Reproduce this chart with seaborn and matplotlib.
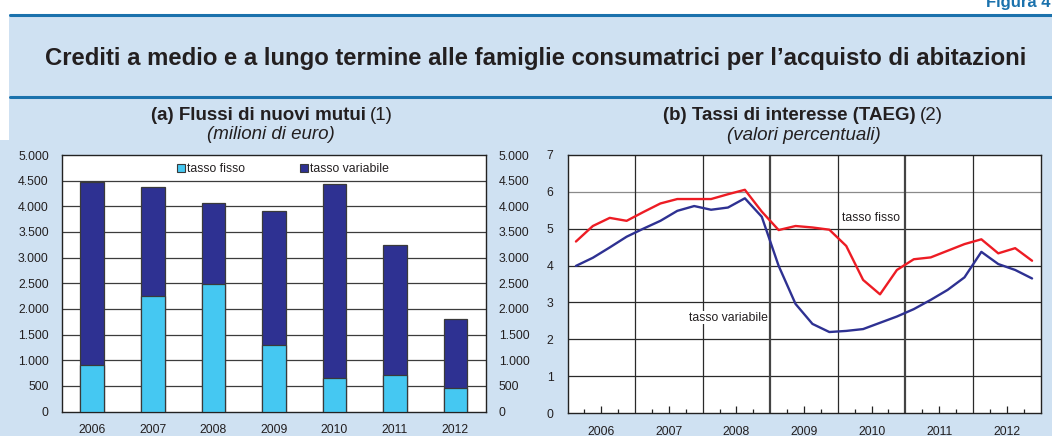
import numpy as np
import pandas as pd
import matplotlib
matplotlib.use("Agg")
import matplotlib.pyplot as plt
import seaborn as sns
from matplotlib.patches import Rectangle, Patch
from matplotlib.lines import Line2D
from matplotlib.ticker import FuncFormatter, FixedLocator

# (a) flussi di nuovi mutui, milioni di euro
anni = [2006, 2007, 2008, 2009, 2010, 2011, 2012]
flussi_fisso = [911, 2259, 2487, 1302, 658, 716, 462]
flussi_variabile = [3555, 2116, 1582, 2598, 3769, 2526, 1348]

# (b) TAEG trimestrale, valori percentuali
trimestri = [f"{a}T{q}" for a in anni for q in (1, 2, 3, 4)]
taeg_fisso = [4.65, 5.07, 5.29, 5.21, 5.45, 5.68, 5.80, 5.80, 5.80, 5.93,
              6.05, 5.46, 4.96, 5.07, 5.03, 4.97, 4.53, 3.61, 3.22, 3.88,
              4.17, 4.22, 4.40, 4.58, 4.71, 4.33, 4.47, 4.13]
taeg_variabile = [3.99, 4.21, 4.49, 4.78, 5.00, 5.21, 5.48, 5.61, 5.51, 5.57,
                  5.82, 5.32, 3.99, 2.96, 2.42, 2.20, 2.23, 2.28, 2.45, 2.62,
                  2.82, 3.07, 3.34, 3.68, 4.37, 4.04, 3.88, 3.65]

BG = "#cfe1f2"
AZZ = "#1b72ad"
CIANO = "#45c8f2"
BLU = "#2e3192"
ROSSO = "#ed1c24"
GRIGIO = "#222222"

sns.set_theme(style="white")
plt.rcParams["font.family"] = ["Liberation Sans", "DejaVu Sans"]
plt.rcParams["text.color"] = "#231f20"

W, H = 1052, 436
fig = plt.figure(figsize=(W / 100, H / 100), dpi=100, facecolor=BG)


def fx(x):
    return x / W


def fy(y):
    return 1 - y / H


# header decorations
fig.add_artist(Rectangle((0, fy(14)), 1, 14 / H, transform=fig.transFigure,
                         facecolor="white", edgecolor="none"))
fig.add_artist(Rectangle((0, fy(140)), fx(9), (140 - 14) / H, transform=fig.transFigure,
                         facecolor="white", edgecolor="none"))
fig.add_artist(Line2D([fx(10), 1], [fy(15), fy(15)], transform=fig.transFigure,
                      color=AZZ, lw=2.2))
fig.add_artist(Line2D([fx(10), 1], [fy(97.5), fy(97.5)], transform=fig.transFigure,
                      color=AZZ, lw=2.2))
fig.text(fx(1050), fy(7), "Figura 4", ha="right", va="baseline", color=AZZ,
         fontsize=12, fontweight="bold")
fig.text(fx(536), fy(58), "Crediti a medio e a lungo termine alle famiglie consumatrici "
         "per l\u2019acquisto di abitazioni", ha="center", va="center",
         fontsize=17.2, fontweight="bold")

# subtitles
SUB = 13.5
fig.text(fx(366), fy(116), "(a) Flussi di nuovi mutui", ha="right", va="center",
         fontsize=SUB, fontweight="bold")
fig.text(fx(369.5), fy(116), "(1)", ha="left", va="center", fontsize=SUB)
fig.text(fx(271), fy(134), "(milioni di euro)", ha="center", va="center",
         fontsize=SUB, style="italic")
fig.text(fx(915.5), fy(116), "(b) Tassi di interesse (TAEG)", ha="right", va="center",
         fontsize=SUB, fontweight="bold")
fig.text(fx(919.5), fy(116), "(2)", ha="left", va="center", fontsize=SUB)
fig.text(fx(804), fy(135), "(valori percentuali)", ha="center", va="center",
         fontsize=SUB, style="italic")

TICK = 8.8

# ---------------- panel (a) ----------------
ax1 = fig.add_axes([fx(62), fy(411.5), fx(485.7 - 62), (411.5 - 155) / H])
ax1.set_facecolor("white")
totale = [f + v for f, v in zip(flussi_fisso, flussi_variabile)]
sns.barplot(x=anni, y=totale, color=BLU, saturation=1, width=0.39,
            edgecolor="#3a3a3a", linewidth=0.9, ax=ax1, zorder=3)
sns.barplot(x=anni, y=flussi_fisso, color=CIANO, saturation=1, width=0.39,
            edgecolor="#3a3a3a", linewidth=0.9, ax=ax1, zorder=3)
ax1.set_ylim(0, 5000)
ax1.set_xlim(-0.5, 6.5)
ax1.yaxis.set_major_locator(FixedLocator(np.arange(0, 5001, 500)))
ax1.yaxis.set_major_formatter(FuncFormatter(lambda v, p: f"{int(v):,}".replace(",", ".")))
for v in np.arange(500, 5000, 500):
    ax1.axhline(v, color="#3c3c3c", lw=0.9, zorder=1)
ax1.tick_params(axis="y", length=0, labelsize=TICK, pad=9.5, labelright=True,
                colors="#231f20")
ax1.tick_params(axis="x", length=0, labelsize=TICK, pad=9, colors="#231f20")
ax1.set_xlabel("")
ax1.set_ylabel("")
for s in ax1.spines.values():
    s.set_color(GRIGIO)
    s.set_linewidth(1.0)
ax1.legend(handles=[Patch(facecolor=CIANO, edgecolor="#3a3a3a", lw=0.8, label="tasso fisso"),
                    Patch(facecolor=BLU, edgecolor="#3a3a3a", lw=0.8, label="tasso variabile")],
           loc="center", bbox_to_anchor=(0.522, 0.945), ncol=2, frameon=False,
           fontsize=TICK, handlelength=0.65, handleheight=0.65, handletextpad=0.15,
           columnspacing=4.5, borderaxespad=0)

# ---------------- panel (b) ----------------
ax2 = fig.add_axes([fx(567.5), fy(413.3), fx(1040.5 - 567.5), (413.3 - 154.7) / H])
ax2.set_facecolor("white")
xq = [int(t[:4]) + (int(t[-1]) - 1) * 0.25 + 0.125 for t in trimestri]
df = pd.DataFrame({"x": xq, "fisso": taeg_fisso, "variabile": taeg_variabile})
sns.lineplot(data=df, x="x", y="fisso", color=ROSSO, lw=1.7, ax=ax2, zorder=4)
sns.lineplot(data=df, x="x", y="variabile", color=BLU, lw=1.7, ax=ax2, zorder=4)
ax2.set_xlim(anni[0], anni[-1] + 1)
ax2.set_ylim(0, 7)
for v in range(1, 7):
    ax2.axhline(v, color="#8a8a8a" if v == 6 else "#2a2a2a", lw=0.9, zorder=1)
for a in anni[1:]:
    ax2.axvline(a, color="#444444" if a in (2009, 2011) else "#2a2a2a",
                lw=1.6 if a in (2009, 2011) else 0.9, zorder=1)
ax2.xaxis.set_major_locator(FixedLocator([a + 0.5 for a in anni]))
ax2.xaxis.set_major_formatter(FuncFormatter(lambda v, p: f"{int(v)}"))
ax2.xaxis.set_minor_locator(FixedLocator([a + q for a in anni for q in (0.25, 0.75)]))
ax2.tick_params(axis="x", which="major", direction="in", length=5, width=0.9,
                color=GRIGIO, labelsize=TICK, pad=9, bottom=True, labelcolor="#231f20")
ax2.tick_params(axis="x", which="minor", direction="in", length=3, width=0.9,
                color=GRIGIO, bottom=True)
ax2.yaxis.set_major_locator(FixedLocator(range(0, 8)))
ax2.tick_params(axis="y", length=0, labelsize=TICK, pad=10, labelright=True,
                labelcolor="#231f20")
ax2.set_xlabel("")
ax2.set_ylabel("")
for s in ax2.spines.values():
    s.set_color(GRIGIO)
    s.set_linewidth(1.0)
ax2.text(2010.49, 5.29, "tasso fisso", ha="center", va="center", fontsize=TICK,
         color="#231f20", zorder=5)
ax2.text(2008.375, 2.59, "tasso variabile", ha="center", va="center", fontsize=TICK,
         color="#231f20", zorder=5,
         bbox=dict(facecolor="white", edgecolor="none", pad=0.5))

fig.savefig("out.png", dpi=100, facecolor=BG)
